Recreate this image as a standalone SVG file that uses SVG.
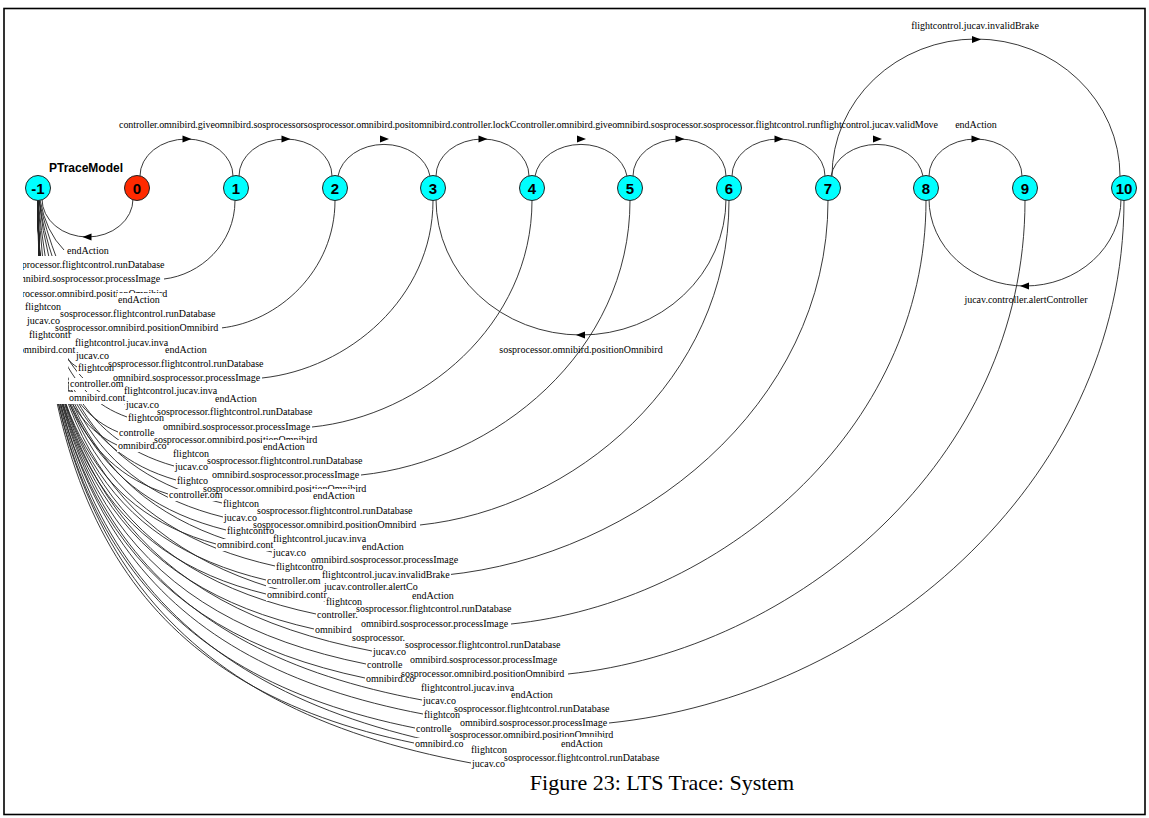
<svg xmlns="http://www.w3.org/2000/svg" xmlns:xlink="http://www.w3.org/1999/xlink" width="1149" height="818" viewBox="0 0 1149 818">
<defs>
<style>
.t{font-family:"Liberation Serif","Times New Roman",serif;font-size:10px;fill:#000}
.n{font-family:"Liberation Sans",Arial,sans-serif;font-weight:bold;font-size:15px;text-anchor:middle;fill:#000}
.e{fill:none;stroke:#222;stroke-width:0.9}
.bg{fill:#fff}
.st{fill:#00ffff;stroke:#222;stroke-width:1}
.ah{fill:#000}
</style>
<clipPath id="area"><rect x="23" y="10" width="1121" height="803"/></clipPath>
<polygon id="ar" class="ah" points="-4,-3.5 5,0 -4,3.5"/>
<polygon id="al" class="ah" points="4,-3.5 -5,0 4,3.5"/>
</defs>
<rect x="0" y="0" width="1149" height="818" fill="#fff"/>
<rect x="4" y="8.5" width="1141" height="806" fill="none" stroke="#000" stroke-width="1.6"/>
<g clip-path="url(#area)">
<g id="connectors">
<!-- chain of arcs along the top -->
<path class="e" d="M140,176 A46.5,37 0 0 1 233,176"/>
<path class="e" d="M239,176 A46.5,37 0 0 1 332,176"/>
<path class="e" d="M338,176 A46.5,37 0 0 1 430,176"/>
<path class="e" d="M436,176 A46.5,37 0 0 1 529,176"/>
<path class="e" d="M535,176 A46.5,37 0 0 1 627,176"/>
<path class="e" d="M633,176 A46.5,37 0 0 1 726,176"/>
<path class="e" d="M732,176 A46.5,37 0 0 1 825,176"/>
<path class="e" d="M831,176 A46.5,37 0 0 1 923,176"/>
<path class="e" d="M929,176 A46.5,37 0 0 1 1022,176"/>
<path class="e" d="M832,176 A144,137 0 0 1 1120,176"/>
<use href="#ar" x="186.5" y="139"/>
<use href="#ar" x="285.5" y="139"/>
<use href="#ar" x="384" y="139"/>
<use href="#ar" x="482.5" y="139"/>
<use href="#ar" x="581" y="139"/>
<use href="#ar" x="679.5" y="139"/>
<use href="#ar" x="778.5" y="139"/>
<use href="#ar" x="877" y="139"/>
<use href="#ar" x="975.5" y="139"/>
<use href="#ar" x="976" y="39.5"/>
<!-- return arcs below the nodes -->
<path class="e" d="M133,199 A45.5,38 0 0 1 42,199"/>
<path class="e" d="M726,199 A145,136 0 0 1 436,199"/>
<path class="e" d="M1121,199 A96,87 0 0 1 929,199"/>
<use href="#al" x="87.5" y="237"/>
<use href="#al" x="581" y="335"/>
<use href="#al" x="1025" y="286"/>
<!-- long edges from the nodes into the label stack -->
<path class="e" d="M235,200.5 C235,244 200,275 164,279"/>
<path class="e" d="M335,200.5 C335,271 278,322 221,328"/>
<path class="e" d="M433,200.5 C433,298 348,369 262,378"/>
<path class="e" d="M532,200.5 C532,325 422,416 312,427"/>
<path class="e" d="M630,200.5 C630,351 496,461 361,475"/>
<path class="e" d="M729,200.5 C729,379 574,509 420,525"/>
<path class="e" d="M828,200.5 C828,406 637,556 446,575"/>
<path class="e" d="M926,200.5 C926,433 718,603 511,624"/>
<path class="e" d="M1025,200.5 C1025,461 796,650 568,674"/>
<path class="e" d="M1124,200.5 C1124,488 866,697 609,723"/>
<!-- fan of edges leaving node -1 -->
<path class="e" d="M38,200 Q39,230 40,262"/>
<path class="e" d="M38,200 Q40,230 43,262"/>
<path class="e" d="M38,200 Q41,230 46,262"/>
<path class="e" d="M39,200 Q42,230 50,262"/>
<path class="e" d="M39,200 Q43,230 54,262"/>
<path class="e" d="M39,200 Q45,228 58,262"/>
<path class="e" d="M40,200 Q46,232 64,250"/>
<path class="e" d="M38,200 C38,293 49,340 75,355"/>
<path class="e" d="M38,200 C38,300 50,350 77,367"/>
<path class="e" d="M38,200 C38,310 47,365 69,383"/>
<path class="e" d="M38,200 C38,318 47,377 68,397"/>
<path class="e" d="M38,200 C38,322 64,384 125,404"/>
<path class="e" d="M38,200 C38,330 65,395 127,417"/>
<path class="e" d="M38,200 C38,339 62,409 118,432"/>
<path class="e" d="M38,200 C38,347 62,420 117,445"/>
<path class="e" d="M38,200 C38,360 79,439 174,466"/>
<path class="e" d="M38,200 C38,368 79,452 176,480"/>
<path class="e" d="M38,200 C38,376 77,465 168,494"/>
<path class="e" d="M38,200 C38,382 93,473 222,503"/>
<path class="e" d="M38,200 C38,390 94,485 223,517"/>
<path class="e" d="M38,200 C38,398 94,497 226,530"/>
<path class="e" d="M38,200 C38,406 91,510 216,544"/>
<path class="e" d="M38,200 C38,411 108,517 272,552"/>
<path class="e" d="M38,200 C38,420 109,529 275,566"/>
<path class="e" d="M38,200 C38,428 106,542 266,580"/>
<path class="e" d="M38,200 C38,436 106,555 266,594"/>
<path class="e" d="M38,200 C38,441 124,561 325,601"/>
<path class="e" d="M38,200 C38,448 121,573 316,614"/>
<path class="e" d="M38,200 C38,457 121,586 314,629"/>
<path class="e" d="M38,200 C38,471 138,606 372,651"/>
<path class="e" d="M38,200 C38,478 136,618 366,664"/>
<path class="e" d="M38,200 C38,487 136,630 365,678"/>
<path class="e" d="M38,200 C38,500 153,650 422,700"/>
<path class="e" d="M38,200 C38,508 154,663 423,714"/>
<path class="e" d="M38,200 C38,517 151,675 415,728"/>
<path class="e" d="M38,200 C38,526 151,689 414,743"/>
<path class="e" d="M38,200 C38,529 168,694 470,749"/>
<path class="e" d="M38,200 C38,538 168,707 471,763"/>
</g>
<!-- white boxes behind the stacked labels -->
<g id="label-bg" class="bg">
<rect x="23" y="256" width="45" height="148"/>
<rect x="66" y="245" width="44" height="12"/>
<rect x="8" y="259" width="158" height="12"/>
<rect x="12" y="273" width="150" height="12"/>
<rect x="3" y="288" width="168" height="12"/>
<rect x="117" y="294" width="44" height="12"/>
<rect x="24" y="301" width="130" height="12"/>
<rect x="59" y="308" width="158" height="12"/>
<rect x="26" y="315" width="130" height="12"/>
<rect x="54" y="322" width="168" height="12"/>
<rect x="28" y="329" width="130" height="12"/>
<rect x="74" y="337" width="130" height="12"/>
<rect x="164" y="344" width="44" height="12"/>
<rect x="18" y="344" width="130" height="12"/>
<rect x="75" y="350" width="130" height="12"/>
<rect x="107" y="358" width="158" height="12"/>
<rect x="77" y="362" width="130" height="12"/>
<rect x="112" y="372" width="150" height="12"/>
<rect x="69" y="378" width="130" height="12"/>
<rect x="123" y="385" width="130" height="12"/>
<rect x="68" y="392" width="130" height="12"/>
<rect x="214" y="393" width="44" height="12"/>
<rect x="125" y="399" width="130" height="12"/>
<rect x="156" y="406" width="158" height="12"/>
<rect x="127" y="412" width="130" height="12"/>
<rect x="162" y="421" width="150" height="12"/>
<rect x="118" y="427" width="130" height="12"/>
<rect x="153" y="434" width="168" height="12"/>
<rect x="117" y="440" width="130" height="12"/>
<rect x="262" y="441" width="44" height="12"/>
<rect x="172" y="448" width="130" height="12"/>
<rect x="206" y="455" width="158" height="12"/>
<rect x="174" y="461" width="130" height="12"/>
<rect x="211" y="469" width="150" height="12"/>
<rect x="176" y="475" width="130" height="12"/>
<rect x="202" y="483" width="168" height="12"/>
<rect x="168" y="489" width="130" height="12"/>
<rect x="312" y="490" width="44" height="12"/>
<rect x="222" y="498" width="130" height="12"/>
<rect x="256" y="505" width="158" height="12"/>
<rect x="223" y="512" width="130" height="12"/>
<rect x="252" y="519" width="168" height="12"/>
<rect x="226" y="525" width="130" height="12"/>
<rect x="272" y="533" width="130" height="12"/>
<rect x="216" y="539" width="130" height="12"/>
<rect x="361" y="541" width="44" height="12"/>
<rect x="272" y="547" width="130" height="12"/>
<rect x="310" y="554" width="150" height="12"/>
<rect x="275" y="561" width="130" height="12"/>
<rect x="321" y="569" width="130" height="12"/>
<rect x="266" y="575" width="130" height="12"/>
<rect x="323" y="581" width="130" height="12"/>
<rect x="266" y="589" width="130" height="12"/>
<rect x="411" y="590" width="44" height="12"/>
<rect x="325" y="596" width="130" height="12"/>
<rect x="355" y="603" width="158" height="12"/>
<rect x="316" y="609" width="130" height="12"/>
<rect x="360" y="618" width="150" height="12"/>
<rect x="314" y="624" width="130" height="12"/>
<rect x="351" y="632" width="168" height="12"/>
<rect x="404" y="639" width="158" height="12"/>
<rect x="372" y="646" width="130" height="12"/>
<rect x="409" y="654" width="150" height="12"/>
<rect x="366" y="659" width="130" height="12"/>
<rect x="400" y="668" width="168" height="12"/>
<rect x="365" y="673" width="130" height="12"/>
<rect x="420" y="682" width="130" height="12"/>
<rect x="510" y="689" width="44" height="12"/>
<rect x="422" y="695" width="130" height="12"/>
<rect x="453" y="703" width="158" height="12"/>
<rect x="423" y="709" width="130" height="12"/>
<rect x="459" y="717" width="150" height="12"/>
<rect x="415" y="723" width="130" height="12"/>
<rect x="449" y="729" width="168" height="12"/>
<rect x="414" y="738" width="130" height="12"/>
<rect x="560" y="738" width="44" height="12"/>
<rect x="470" y="744" width="130" height="12"/>
<rect x="503" y="752" width="158" height="12"/>
<rect x="471" y="758" width="130" height="12"/>
</g>
<g id="edge-labels">
<text class="t" x="119" y="128" textLength="819" lengthAdjust="spacing"><tspan>controller.omnibird.give</tspan><tspan>omnibird.sosprocessor</tspan><tspan>sosprocessor.omnibird.posit</tspan><tspan>omnibird.controller.lockC</tspan><tspan>controller.omnibird.give</tspan><tspan>omnibird.sosprocessor.</tspan><tspan>sosprocessor.flightcontrol.run</tspan><tspan>flightcontrol.jucav.validMove</tspan></text>
<text class="t" x="976" y="128" text-anchor="middle">endAction</text>
<text class="t" x="975" y="29" text-anchor="middle">flightcontrol.jucav.invalidBrake</text>
<text class="t" x="581" y="353" text-anchor="middle">sosprocessor.omnibird.positionOmnibird</text>
<text class="t" x="1026" y="303" text-anchor="middle">jucav.controller.alertController</text>
<text class="t" x="67" y="254">endAction</text>
<text class="t" x="9" y="268">sosprocessor.flightcontrol.runDatabase</text>
<text class="t" x="13" y="282">omnibird.sosprocessor.processImage</text>
<text class="t" x="4" y="297">sosprocessor.omnibird.positionOmnibird</text>
<rect class="bg" x="117" y="293" width="44" height="13"/>
<text class="t" x="118" y="303">endAction</text>
<text class="t" x="25" y="310">flightcon</text>
<text class="t" x="60" y="317">sosprocessor.flightcontrol.runDatabase</text>
<text class="t" x="27" y="324">jucav.co</text>
<text class="t" x="55" y="331">sosprocessor.omnibird.positionOmnibird</text>
<text class="t" x="29" y="338">flightcontr</text>
<text class="t" x="75" y="346">flightcontrol.jucav.inva</text>
<text class="t" x="165" y="353">endAction</text>
<text class="t" x="19" y="353">omnibird.cont</text>
<text class="t" x="76" y="359">jucav.co</text>
<text class="t" x="108" y="367">sosprocessor.flightcontrol.runDatabase</text>
<text class="t" x="78" y="371">flightcon</text>
<text class="t" x="113" y="381">omnibird.sosprocessor.processImage</text>
<text class="t" x="70" y="387">controller.om</text>
<text class="t" x="124" y="394">flightcontrol.jucav.inva</text>
<text class="t" x="69" y="401">omnibird.cont</text>
<text class="t" x="215" y="402">endAction</text>
<text class="t" x="126" y="408">jucav.co</text>
<text class="t" x="157" y="415">sosprocessor.flightcontrol.runDatabase</text>
<text class="t" x="128" y="421">flightcon</text>
<text class="t" x="163" y="430">omnibird.sosprocessor.processImage</text>
<text class="t" x="119" y="436">controlle</text>
<text class="t" x="154" y="443">sosprocessor.omnibird.positionOmnibird</text>
<text class="t" x="118" y="449">omnibird.co</text>
<rect class="bg" x="262" y="440" width="44" height="13"/>
<text class="t" x="263" y="450">endAction</text>
<text class="t" x="173" y="457">flightcon</text>
<text class="t" x="207" y="464">sosprocessor.flightcontrol.runDatabase</text>
<text class="t" x="175" y="470">jucav.co</text>
<text class="t" x="212" y="478">omnibird.sosprocessor.processImage</text>
<text class="t" x="177" y="484">flightco</text>
<text class="t" x="203" y="492">sosprocessor.omnibird.positionOmnibird</text>
<text class="t" x="169" y="498">controller.om</text>
<rect class="bg" x="312" y="489" width="44" height="13"/>
<text class="t" x="313" y="499">endAction</text>
<text class="t" x="223" y="507">flightcon</text>
<text class="t" x="257" y="514">sosprocessor.flightcontrol.runDatabase</text>
<text class="t" x="224" y="521">jucav.co</text>
<text class="t" x="253" y="528">sosprocessor.omnibird.positionOmnibird</text>
<text class="t" x="227" y="534">flightcontro</text>
<text class="t" x="273" y="542">flightcontrol.jucav.inva</text>
<text class="t" x="217" y="548">omnibird.cont</text>
<text class="t" x="362" y="550">endAction</text>
<text class="t" x="273" y="556">jucav.co</text>
<text class="t" x="311" y="563">omnibird.sosprocessor.processImage</text>
<text class="t" x="276" y="570">flightcontro</text>
<text class="t" x="322" y="578">flightcontrol.jucav.invalidBrake</text>
<text class="t" x="267" y="584">controller.om</text>
<text class="t" x="324" y="590">jucav.controller.alertCo</text>
<text class="t" x="267" y="598">omnibird.contr</text>
<text class="t" x="412" y="599">endAction</text>
<text class="t" x="326" y="605">flightcon</text>
<text class="t" x="356" y="612">sosprocessor.flightcontrol.runDatabase</text>
<text class="t" x="317" y="618">controller.</text>
<text class="t" x="361" y="627">omnibird.sosprocessor.processImage</text>
<text class="t" x="315" y="633">omnibird</text>
<text class="t" x="352" y="641">sosprocessor.</text>
<text class="t" x="405" y="648">sosprocessor.flightcontrol.runDatabase</text>
<text class="t" x="373" y="655">jucav.co</text>
<text class="t" x="410" y="663">omnibird.sosprocessor.processImage</text>
<text class="t" x="367" y="668">controlle</text>
<text class="t" x="401" y="677">sosprocessor.omnibird.positionOmnibird</text>
<text class="t" x="366" y="682">omnibird.co</text>
<text class="t" x="421" y="691">flightcontrol.jucav.inva</text>
<text class="t" x="511" y="698">endAction</text>
<text class="t" x="423" y="704">jucav.co</text>
<text class="t" x="454" y="712">sosprocessor.flightcontrol.runDatabase</text>
<text class="t" x="424" y="718">flightcon</text>
<text class="t" x="460" y="726">omnibird.sosprocessor.processImage</text>
<text class="t" x="416" y="732">controlle</text>
<text class="t" x="450" y="738">sosprocessor.omnibird.positionOmnibird</text>
<text class="t" x="415" y="747">omnibird.co</text>
<rect class="bg" x="560" y="737" width="44" height="13"/>
<text class="t" x="561" y="747">endAction</text>
<text class="t" x="471" y="753">flightcon</text>
<text class="t" x="504" y="761">sosprocessor.flightcontrol.runDatabase</text>
<text class="t" x="472" y="767">jucav.co</text>
</g>
<text x="49" y="172" font-family="Liberation Sans, Arial, sans-serif" font-weight="bold" font-size="12">PTraceModel</text>
<g id="node-m1"><circle class="st" cx="38" cy="188" r="12.5"/><text class="n" x="38" y="194">-1</text></g>
<g id="node-0"><circle cx="137" cy="188" r="12.5" fill="#ff2a00" stroke="#222" stroke-width="1"/><text class="n" x="137" y="194">0</text></g>
<g id="node-1"><circle class="st" cx="236" cy="188" r="12.5"/><text class="n" x="236" y="194">1</text></g>
<g id="node-2"><circle class="st" cx="335" cy="188" r="12.5"/><text class="n" x="335" y="194">2</text></g>
<g id="node-3"><circle class="st" cx="433" cy="188" r="12.5"/><text class="n" x="433" y="194">3</text></g>
<g id="node-4"><circle class="st" cx="532" cy="188" r="12.5"/><text class="n" x="532" y="194">4</text></g>
<g id="node-5"><circle class="st" cx="630" cy="188" r="12.5"/><text class="n" x="630" y="194">5</text></g>
<g id="node-6"><circle class="st" cx="729" cy="188" r="12.5"/><text class="n" x="729" y="194">6</text></g>
<g id="node-7"><circle class="st" cx="828" cy="188" r="12.5"/><text class="n" x="828" y="194">7</text></g>
<g id="node-8"><circle class="st" cx="926" cy="188" r="12.5"/><text class="n" x="926" y="194">8</text></g>
<g id="node-9"><circle class="st" cx="1025" cy="188" r="12.5"/><text class="n" x="1025" y="194">9</text></g>
<g id="node-10"><circle class="st" cx="1124" cy="188" r="12.5"/><text class="n" x="1124" y="194">10</text></g>
</g>
<text x="662" y="790" text-anchor="middle" font-family="Liberation Serif, Times New Roman, serif" font-size="22">Figure 23: LTS Trace: System</text>
</svg>
